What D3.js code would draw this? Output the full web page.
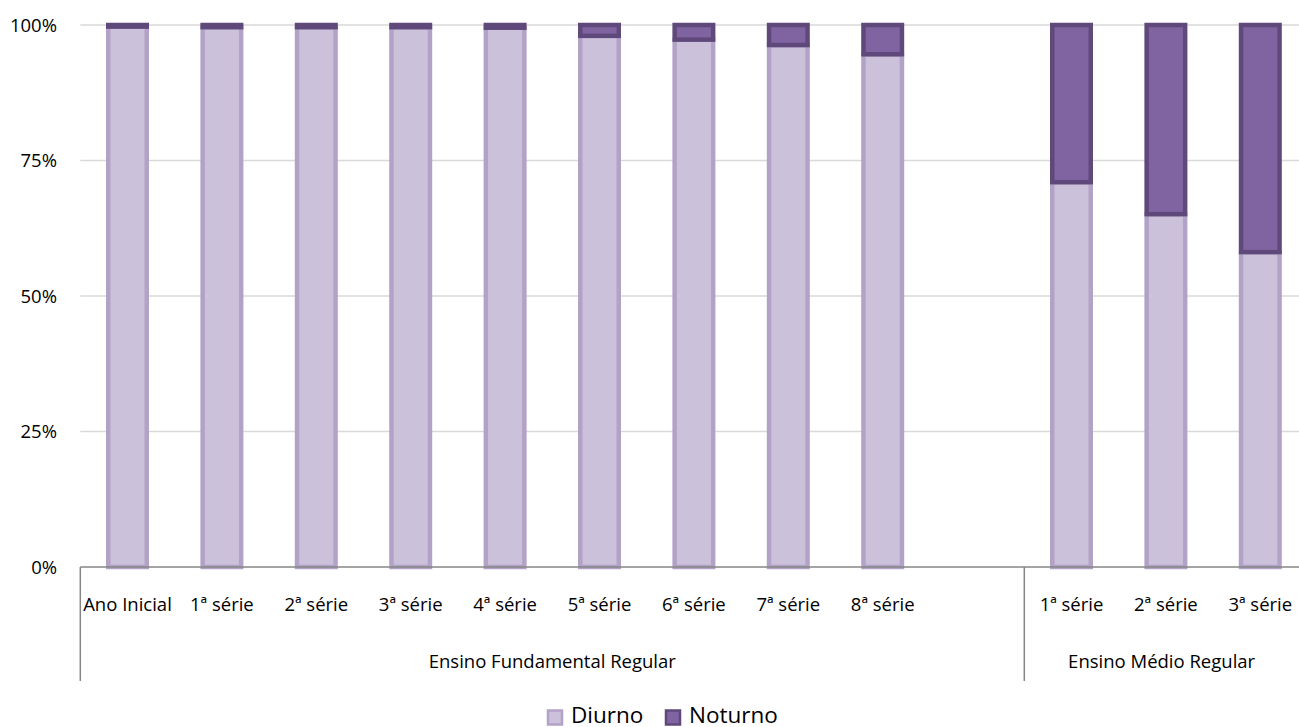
<!DOCTYPE html>
<html>
<head>
<meta charset="utf-8">
<script src="https://cdn.jsdelivr.net/npm/d3@7"></script>
<style>
  body { margin: 0; background: #fff; }
  svg { font-family: "Open Sans", sans-serif; }
</style>
</head>
<body>
<svg id="chart" width="1299" height="727"></svg>
<script>
// data
const groups = ["Ensino Fundamental Regular", "Ensino Médio Regular"];
const fundamentalLabels = ["Ano Inicial", "1ª série", "2ª série", "3ª série", "4ª série", "5ª série", "6ª série", "7ª série", "8ª série"];
const medioLabels = ["1ª série", "2ª série", "3ª série"];
const fundamentalNoturno = [0.3, 0.4, 0.4, 0.4, 0.5, 2.0, 2.7, 3.7, 5.4];
const medioNoturno = [29.0, 34.9, 41.9];
const fundamentalDiurno = [99.7, 99.6, 99.6, 99.6, 99.5, 98.0, 97.3, 96.3, 94.6];
const medioDiurno = [71.0, 65.1, 58.1];
const series = ["Diurno", "Noturno"];
const yTicks = [0, 25, 50, 75, 100];

const colors = {
  Diurno: { fill: "#ccc1da", stroke: "#b3a2c7" },
  Noturno: { fill: "#8064a2", stroke: "#5f497a" }
};

const svg = d3.select("#chart");
const plotLeft = 80.3, plotTop = 25, plotBottom = 567, slotW = 94.4;
const labelSize = 18.5;

// one slot per bar, plus an empty slot at the end of the first group
let rows = fundamentalLabels.map((lab, i) => ({ key: "f" + i, label: lab, group: 0, Diurno: fundamentalDiurno[i], Noturno: fundamentalNoturno[i] }));
rows.push({ key: "gap", label: "", group: 0, Diurno: 0, Noturno: 0 });
rows = rows.concat(medioLabels.map((lab, i) => ({ key: "m" + i, label: lab, group: 1, Diurno: medioDiurno[i], Noturno: medioNoturno[i] })));

const x = d3.scaleBand()
  .domain(rows.map(d => d.key))
  .range([plotLeft, plotLeft + slotW * rows.length])
  .padding(0);

const y = d3.scaleLinear().domain([0, 100]).range([plotBottom, plotTop]);

// gridlines
svg.append("g")
  .selectAll("line")
  .data(yTicks.filter(t => t > 0))
  .enter().append("line")
  .attr("x1", plotLeft).attr("x2", 1299)
  .attr("y1", d => y(d)).attr("y2", d => y(d))
  .attr("stroke", "#d9d9d9").attr("stroke-width", 1.5);

// y labels
svg.append("g")
  .selectAll("text")
  .data(yTicks)
  .enter().append("text")
  .attr("x", 57).attr("y", d => y(d) + 6.5)
  .attr("text-anchor", "end")
  .attr("font-size", labelSize)
  .attr("fill", "#000")
  .text(d => d + "%");

// bars
const stacked = d3.stack().keys(series)(rows.filter(d => d.key !== "gap"));
const barW = 38.5;
svg.append("g")
  .selectAll("g")
  .data(stacked)
  .enter().append("g")
  .attr("fill", s => colors[s.key].fill)
  .attr("stroke", s => colors[s.key].stroke)
  .attr("stroke-width", 4.5)
  .selectAll("rect")
  .data(s => s)
  .enter().append("rect")
  .attr("x", d => x(d.data.key) + x.bandwidth() / 2 - barW / 2)
  .attr("width", barW)
  .attr("y", d => y(d[1]))
  .attr("height", d => y(d[0]) - y(d[1]));

// x axis baseline and group dividers
const axis = svg.append("g").attr("stroke", "#868686").attr("stroke-width", 1.5);
axis.append("line").attr("x1", plotLeft).attr("x2", 1299).attr("y1", plotBottom).attr("y2", plotBottom);
const groupBounds = groups.map((g, gi) => {
  const keys = rows.filter(d => d.group === gi).map(d => d.key);
  return { name: g, x0: x(keys[0]), x1: x(keys[keys.length - 1]) + x.bandwidth() };
});
axis.selectAll(".div")
  .data(groupBounds)
  .enter().append("line")
  .attr("x1", d => d.x0).attr("x2", d => d.x0)
  .attr("y1", plotBottom).attr("y2", 681);

// category labels
svg.append("g")
  .selectAll("text")
  .data(rows)
  .enter().append("text")
  .attr("x", d => x(d.key) + x.bandwidth() / 2)
  .attr("y", 611)
  .attr("text-anchor", "middle")
  .attr("font-size", labelSize)
  .text(d => d.label);

// group labels
svg.append("g")
  .selectAll("text")
  .data(groupBounds)
  .enter().append("text")
  .attr("x", d => (d.x0 + Math.min(d.x1, 1299)) / 2)
  .attr("y", 668)
  .attr("text-anchor", "middle")
  .attr("font-size", labelSize)
  .text(d => d.name);

// legend
const legend = svg.append("g");
const legendX = [548, 666];
series.forEach((s, i) => {
  legend.append("rect")
    .attr("x", legendX[i]).attr("y", 710.5)
    .attr("width", 14).attr("height", 14)
    .attr("fill", colors[s].fill)
    .attr("stroke", colors[s].stroke)
    .attr("stroke-width", 2.5);
  legend.append("text")
    .attr("x", legendX[i] + 23).attr("y", 723)
    .attr("font-size", 22.5)
    .text(s);
});
</script>
</body>
</html>
